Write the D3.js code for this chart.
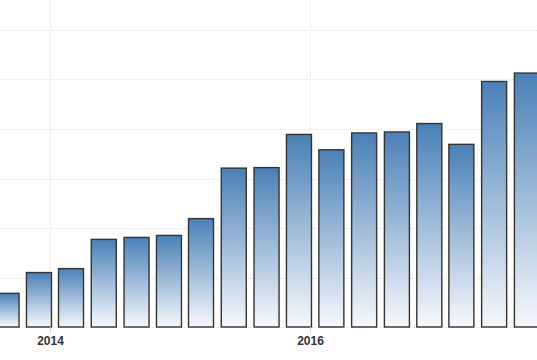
<!DOCTYPE html>
<html>
<head>
<meta charset="utf-8">
<script src="https://cdn.jsdelivr.net/npm/d3@7"></script>
<style>
  body { margin: 0; background: #fff; }
  svg { display: block; }
</style>
</head>
<body>
<div id="chart"></div>
<script>
// quarterly periods (plotted at first day of the quarter's last month)
var quarters = ["2013-09-01", "2013-12-01", "2014-03-01", "2014-06-01", "2014-09-01",
  "2014-12-01", "2015-03-01", "2015-06-01", "2015-09-01", "2015-12-01", "2016-03-01",
  "2016-06-01", "2016-09-01", "2016-12-01", "2017-03-01", "2017-06-01", "2017-09-01"];
var values = [0.68, 1.10, 1.18, 1.77, 1.81, 1.85, 2.19, 3.21, 3.22, 3.89, 3.58,
  3.92, 3.94, 4.11, 3.69, 4.96, 5.13];
var yTicks = [0, 1, 2, 3, 4, 5, 6];
var xTickLabels = ["2014", "2016"];

var width = 537, height = 360;
var parse = d3.timeParse("%Y-%m-%d");
var data = quarters.map(function(q, i) { return { date: parse(q), value: values[i] }; });

var x = d3.scaleTime()
  .domain([new Date(2014, 0, 1), new Date(2016, 0, 1)])
  .range([50, 310]);
var y = d3.scaleLinear().domain([0, 6]).range([327, 30]);

var svg = d3.select("#chart").append("svg")
  .attr("width", width)
  .attr("height", height);

var defs = svg.append("defs");
var grad = defs.append("linearGradient")
  .attr("id", "barGrad")
  .attr("x1", 0).attr("y1", 0).attr("x2", 0).attr("y2", 1);
grad.append("stop").attr("offset", "0%").attr("stop-color", "#4a80b6");
grad.append("stop").attr("offset", "100%").attr("stop-color", "#f7f9fd");

// horizontal grid
svg.append("g")
  .selectAll("line")
  .data(yTicks)
  .join("line")
  .attr("x1", 0).attr("x2", width)
  .attr("y1", function(d) { return Math.round(y(d)) + 0.5; })
  .attr("y2", function(d) { return Math.round(y(d)) + 0.5; })
  .attr("stroke", "#e2e2e2")
  .attr("stroke-dasharray", "1,1");

// vertical grid at years
var yearDates = xTickLabels.map(function(t) { return new Date(+t, 0, 1); });
svg.append("g")
  .selectAll("line")
  .data(yearDates)
  .join("line")
  .attr("x1", function(d) { return Math.round(x(d)) + 0.5; })
  .attr("x2", function(d) { return Math.round(x(d)) + 0.5; })
  .attr("y1", 0).attr("y2", y(0))
  .attr("stroke", "#e2e2e2")
  .attr("stroke-dasharray", "1,1");

var barW = 25;
svg.append("g")
  .selectAll("rect")
  .data(data)
  .join("rect")
  .attr("x", function(d) { return x(d.date) - barW / 2; })
  .attr("y", function(d) { return y(d.value); })
  .attr("width", barW)
  .attr("height", function(d) { return y(0) - y(d.value); })
  .attr("fill", "url(#barGrad)")
  .attr("stroke", "#333")
  .attr("stroke-width", 1.4);

// x axis ticks and labels
var xAxis = d3.axisBottom(x)
  .tickValues(yearDates)
  .tickFormat(d3.timeFormat("%Y"))
  .tickSize(5)
  .tickPadding(4);

var ax = svg.append("g")
  .attr("transform", "translate(0," + y(0) + ")")
  .call(xAxis);
ax.select(".domain").remove();
ax.selectAll(".tick line").attr("stroke", "#d0d0d0");
ax.selectAll(".tick text")
  .attr("fill", "#333")
  .style("font-family", "'Liberation Sans', Arial, sans-serif")
  .style("font-size", "12px")
  .style("font-weight", "bold");
</script>
</body>
</html>
